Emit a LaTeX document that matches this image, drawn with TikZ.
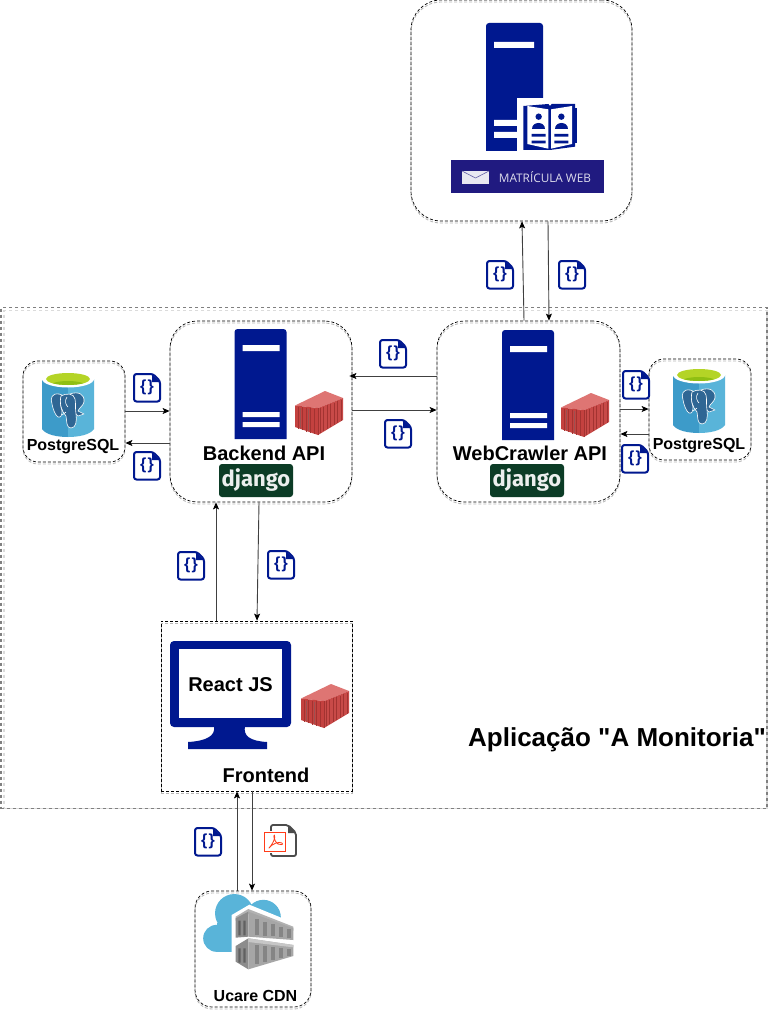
\documentclass[tikz,border=0pt]{standalone}
\usepackage{fontspec}
\setmainfont{Liberation Sans}[Ligatures=TeXOff]
\newfontfamily\bannerfont{Open Sans}
\newfontfamily\djfont{Fira Sans}
\usetikzlibrary{arrows.meta}
\definecolor{navy}{HTML}{00188F}
\definecolor{cta}{HTML}{DE7573}
\definecolor{ctb}{HTML}{C84A48}
\definecolor{ctc}{HTML}{C4413F}
\definecolor{ctr}{HTML}{A33331}
\definecolor{pgl}{HTML}{3D9BC9}
\definecolor{pgr}{HTML}{59B4D9}
\definecolor{pge}{HTML}{2F6694}
\definecolor{pgg}{HTML}{B4D426}
\definecolor{pgd}{HTML}{8FBF13}
\definecolor{dj}{HTML}{0C3C26}
\definecolor{mwb}{HTML}{201A80}
\tikzset{
  x=1pt,y=-1pt,
  dboxst/.style={draw=black,line width=.7pt,dash pattern=on 3pt off 2pt,inner sep=0pt,fill=none},
  ghost/.style={draw=black!28,line width=.9pt,dash pattern=on 3pt off 2pt,inner sep=0pt,fill=none},
  outerst/.style={draw=black!50,line width=1.5pt,dash pattern=on 3pt off 3pt,inner sep=0pt,fill=none},
  outerghost/.style={draw=black!14,line width=1.5pt,dash pattern=on 3pt off 3pt,inner sep=0pt,fill=none},
  conn/.style={draw=black!75,line width=.9pt,-{Stealth[length=7pt,width=6pt,inset=1.5pt,color=black]}},
  lab/.style={font=\fontsize{20}{24}\selectfont\bfseries,inner sep=0pt,text=black},
  slab/.style={font=\fontsize{16}{19}\selectfont\bfseries,inner sep=0pt,text=black},
  server/.pic={
    \fill[navy] (0,110) {[rounded corners=3pt] -- (0,0) -- (52,0)} -- (52,110) -- cycle;
    \fill[white] (8,16) rectangle (45,22) (8,83) rectangle (45,88) (8,93) rectangle (45,98);
  },
  container/.pic={
    \fill[cta] (0,14.5) -- (30,0) -- (48,7) -- (23,17) -- cycle;
    \fill[ctb] (23,17) -- (48,7) -- (48,29) -- (23,44) -- cycle;
    \fill[ctc] (0,14.5) -- (23,17) -- (23,44) -- (0,36) -- cycle;
    \foreach \t in {0.08,0.22,...,0.95}{
      \draw[ctr,line width=.7pt] ({23+25*\t},{18-10*\t}) -- ({23+25*\t},{43-14*\t});
    }
    \foreach \t in {3,7,11,15,19}{
      \draw[ctr,line width=.7pt] (\t,{15.5+\t/9}) -- (\t,{37+\t/3});
    }
    \draw[black!30!cta,line width=.7pt] (5,17) -- (5,37) (13,18) -- (13,40);
    \draw[ctr,line width=.5pt] (23,17) -- (23,44);
  },
  json/.pic={
    \draw[navy,line width=2pt,fill=white,rounded corners=2.5pt,line join=round]
      (1,1) -- (20,1) -- (27,8) -- (27,28.5) -- (1,28.5) -- cycle;
    \fill[navy] (19,1) -- (27,9) -- (19,9) -- cycle;
    \node[inner sep=0pt,text=navy,font=\fontsize{16}{16}\selectfont\bfseries] (-t) at (14,14.5) {\{\hspace{1.5pt}\}};
  },
  pgcyl/.pic={
    \fill[pgl] (0,8) -- (0,58) .. controls (4,64) and (16,66) .. (26,66) -- (26,16) -- cycle;
    \fill[pgr] (52,8) -- (52,58) .. controls (48,64) and (36,66) .. (26,66) -- (26,16) -- cycle;
    \fill[white] (26,8) ellipse [x radius=26pt,y radius=8.5pt];
    \fill[pgg] (26,8) ellipse [x radius=22pt,y radius=6pt];
    \begin{scope}
      \clip (26,8) ellipse [x radius=22pt,y radius=6pt];
      \fill[pgd] (26,15) ellipse [x radius=18pt,y radius=5pt];
    \end{scope}
    \begin{scope}[draw=white,fill=pge,line width=.6pt,line join=round]
      \filldraw (17,23) .. controls (10,22) and (8,27) .. (10,33) .. controls (11,38) and (13,44) .. (16,46) .. controls (19,47) and (20,44) .. (20,40) .. controls (18,34) and (18,28) .. (20,24) -- cycle;
      \filldraw (28,23) .. controls (36,20) and (43,23) .. (42,31) .. controls (41,35) and (37,37) .. (36,40) -- (42,43) -- (36,45) -- (32,41) -- cycle;
      \filldraw (19,25) .. controls (24,22) and (32,22) .. (33,28) .. controls (34,33) and (33,37) .. (34,43) .. controls (35,50) and (34,57) .. (29,57) .. controls (24,57) and (25,50) .. (24,45) .. controls (20,41) and (17,33) .. (19,25) -- cycle;
      \draw (25,26) .. controls (22,30) and (24,34) .. (26,36) (20,44) -- (24,41);
    \end{scope}
  },
  djbadge/.pic={
    \node[fill=dj,rounded corners=3pt,minimum width=74pt,minimum height=33pt,inner sep=0pt,
      text=white!92!dj,font=\djfont\fontsize{22}{22}\selectfont\bfseries] (-b) at (37,16.5) {\raisebox{1pt}{django}};
  }
}
\newcommand{\dbox}[6]{%
  \node[ghost,rounded corners=#6pt,minimum width=#4pt,minimum height=#5pt] (#1-g) at (#2,#3+2) {};
  \node[dboxst,rounded corners=#6pt,minimum width=#4pt,minimum height=#5pt] (#1) at (#2,#3) {};
}
\begin{document}
\begin{tikzpicture}
\useasboundingbox[fill=white] (0,0) rectangle (769,1011);

% boxes
\node[outerghost,minimum width=763pt,minimum height=498pt] (app-g) at (385.5,559.5) {};
\node[outerst,minimum width=766pt,minimum height=501pt] (app) at (384,558) {};
\dbox{mw}{521.5}{110.5}{221}{221}{30}
\dbox{be}{261}{411.5}{182}{181}{27}
\dbox{wc}{528.5}{411.5}{183}{181}{27}
\dbox{pga}{74}{411.5}{102}{101}{15}
\dbox{pgb}{700}{409.5}{102}{101}{15}
\dbox{fe}{256.5}{706}{191}{170}{0}
\dbox{cdn}{253}{949}{116}{116}{17}

% matricula web server
\fill[navy] (486,151) {[rounded corners=3pt] -- (486,23) -- (543,23)} -- (543,151) -- cycle;
\fill[white] (494,42) rectangle (534,48) (494,120) rectangle (520,126) (494,132) rectangle (520,138);
\fill[white] (517,98) rectangle (580,153);
\begin{scope}[shift={(400,0)},x=.33333pt,y=-.33333pt]
  \fill[navy] (525,325) rectangle (532,430);
  \fill[navy] (370,318) -- (445,312) -- (450,318) -- (455,312) -- (525,312) -- (525,440) -- (450,450) -- (370,450) -- cycle;
  \fill[white] (382,318) -- (445,328) -- (445,446) -- (382,432) -- cycle;
  \fill[white] (453,328) -- (516,318) -- (516,432) -- (453,446) -- cycle;
  \foreach \dx in {0,68}{
    \begin{scope}[xshift=\dx*.33333pt]
      \fill[navy] (416,350) circle (3.2pt);
      \fill[navy] (397,386) .. controls (397,364) and (435,364) .. (435,386) -- cycle;
      \fill[navy] (395,402) rectangle (437,410) (395,422) rectangle (437,430);
    \end{scope}
  }
\end{scope}
% banner
\fill[mwb] (451,160) rectangle (604,193);
\fill[white!90!mwb] (462,171) rectangle (489,184);
\draw[mwb!70!white,line width=.6pt] (462,171) -- (475.5,178) -- (489,171);
\node[text=white!85!mwb,inner sep=0pt,font=\bannerfont\fontsize{11.8}{12}\selectfont] (mwtext) at (545,177) {MATRÍCULA WEB};

% servers, containers, django
\pic (s1) at (234.5,329) {server};
\pic (s2) at (502,330) {server};
\pic (c1) at (295,391) {container};
\pic (c2) at (561,393) {container};
\pic (c3) at (301,684) {container};
\pic (d1) at (219,464) {djbadge};
\pic (d2) at (490,464) {djbadge};
\node[lab] (betext) at (264,453) {Backend API};
\node[lab] (wctext) at (530,453) {WebCrawler API};

% postgres
\pic (p1) at (42,371) {pgcyl};
\pic (p2) at (673,367) {pgcyl};
\node[slab] (pgatext) at (73,447) {PostgreSQL};
\node[slab] (pgbtext) at (699,446) {PostgreSQL};

% monitor
\fill[navy,rounded corners=4pt] (170,641) rectangle (291,727);
\fill[white] (179,649) rectangle (282,718);
\fill[navy] (214,726) -- (245,726) .. controls (243,736) and (250,741) .. (267,742) -- (267,749) -- (188,749) -- (188,742) .. controls (206,741) and (216,736) .. (214,726) -- cycle;
\node[lab] (retext) at (230.5,685) {React JS};
\node[lab] (fetext) at (266,775) {Frontend};

% CDN
\begin{scope}[shift={(195,890)},x=.33333pt,y=-.33333pt]
  \fill[pgr] (65,145) circle (13.5pt) (118,70) circle (19.3pt) (205,82) circle (17.5pt);
  \fill[pgr] (65,100) rectangle (180,185);
  \fill[white] (110,186) -- (110,75) -- (163,44) -- (300,100) -- (300,215) -- (160,245) -- (110,220) -- cycle;
  % upper container
  \fill[black!30] (122,80) -- (160,57) -- (295,110) -- (295,122) -- (160,72) -- (122,92) -- cycle;
  \fill[black!45] (122,85) -- (160,65) -- (160,140) -- (122,143) -- cycle;
  \fill[black!35] (160,65) -- (295,115) -- (295,150) -- (160,140) -- cycle;
  % lower container
  \fill[black!45] (122,168) -- (160,145) -- (160,238) -- (122,215) -- cycle;
  \fill[black!35] (160,145) -- (295,165) -- (295,198) -- (160,238) -- cycle;
  \fill[black!22] (160,145) -- (295,165) -- (295,172) -- (160,156) -- cycle;
  \foreach \t in {0.08,0.28,0.48,0.68,0.88}{
    \fill[black!48] ({170+120*\t},{84+38*\t}) rectangle ({181+120*\t},{134+10*\t});
    \fill[black!48] ({170+120*\t},{164+15*\t}) rectangle ({181+120*\t},{224-30*\t});
  }
  \foreach \t in {130,145}{
    \fill[black!62] (\t,92) rectangle (\t+7,136) (\t,175) rectangle (\t+7,218);
  }
\end{scope}
\node[slab] (cdntext) at (255.5,996) {Ucare CDN};

% title
\node[inner sep=0pt,font=\fontsize{26}{30}\selectfont\bfseries] (title) at (617,740) {Aplicação "A Monitoria"};

% connectors
\draw[conn] (wc.north -| 524,0) -- (mw.south -| 522,0);
\draw[conn] (mw.south -| 548,0) -- (wc.north -| 549,0);
\draw[conn,shorten >=-3pt] (wc.west |- 0,376) -- (be.east |- 0,376);
\draw[conn] (be.east |- 0,410) -- (wc.west |- 0,410);
\draw[conn] (pga.east |- 0,411) -- (be.west |- 0,411);
\draw[conn] (be.west |- 0,443) -- (pga.east |- 0,443);
\draw[conn] (wc.east |- 0,409) -- (pgb.west |- 0,409);
\draw[conn] (pgb.west |- 0,434) -- (wc.east |- 0,434);
\draw[conn] (fe.north -| 216,0) -- (be.south -| 216,0);
\draw[conn] (be.south -| 259,0) -- (fe.north -| 257,0);
\draw[conn] (cdn.north -| 237,0) -- (fe.south -| 237,0);
\draw[conn] (fe.south -| 252,0) -- (cdn.north -| 252,0);

% json icons
\pic (j1) at (133,373) {json};
\pic (j2) at (133,451) {json};
\pic (j3) at (379,339) {json};
\pic (j4) at (384,419) {json};
\pic (j5) at (177,551) {json};
\pic (j6) at (267,550) {json};
\pic (j7) at (486,260) {json};
\pic (j8) at (558,260) {json};
\pic (j9) at (622,370) {json};
\pic (j10) at (621,444) {json};
\pic (j11) at (194,827) {json};

% pdf icon
\draw[black!70,line width=1.8pt,fill=white,rounded corners=2pt] (271,825) -- (288,825) -- (296,833) -- (296,856) -- (271,856) -- cycle;
\fill[black!70] (288,825) -- (296,833) -- (288,833) -- cycle;
\fill[white] (263,831) rectangle (287,853);
\draw[red!70!orange!90!white,line width=1.4pt] (264.5,832.5) rectangle (285.5,851.5);
\draw[red!70!orange!90!white,line width=.8pt,line join=round] (269,848) .. controls (272,845) and (276,838) .. (274.5,835) .. controls (273,835) and (274,841) .. (278,844) .. controls (280,845) and (284,845) .. (282,843) .. controls (279,841) and (272,844) .. (269,848) -- cycle;
\end{tikzpicture}
\end{document}
